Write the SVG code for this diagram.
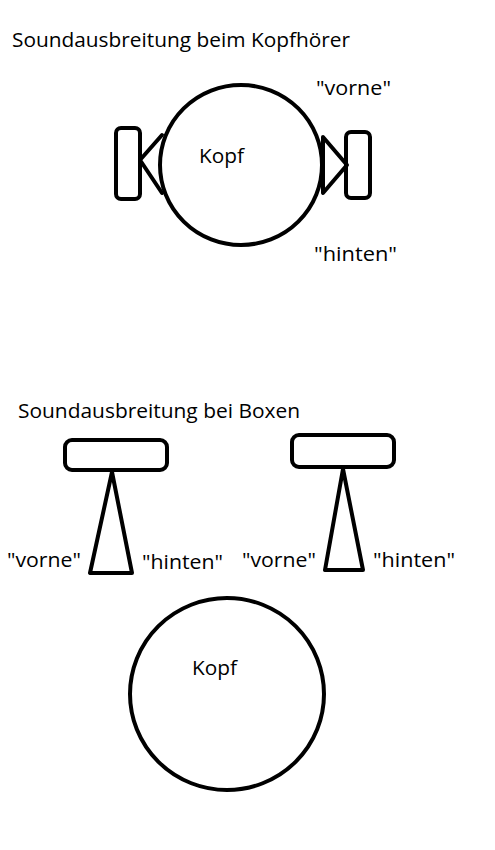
<svg xmlns="http://www.w3.org/2000/svg" width="495" height="850" viewBox="0 0 495 850">
<style>
.s{fill:none;stroke:#000;stroke-width:4;stroke-linejoin:round;stroke-linecap:round}
text{font-family:"Open Sans","Noto Sans","Liberation Sans",sans-serif;font-size:20px;fill:#000}
</style>
<rect width="495" height="850" fill="#fff"/>
<g id="title1"><text x="12" y="47" textLength="338" lengthAdjust="spacingAndGlyphs">Soundausbreitung beim Kopfhörer</text></g>
<g id="head1">
<ellipse class="s" cx="241" cy="165" rx="81" ry="80"/>
<text x="199" y="163" textLength="45" lengthAdjust="spacingAndGlyphs">Kopf</text>
</g>
<g id="earLeft">
<rect class="s" x="116" y="128" width="24" height="71" rx="5"/>
<polyline class="s" points="162,135 140,160 162,193"/>
</g>
<g id="earRight">
<rect class="s" x="346" y="132" width="24" height="66" rx="5"/>
<polygon class="s" points="323,137 347,165 323,193"/>
</g>
<g id="labelsTop">
<text x="316" y="95" textLength="75" lengthAdjust="spacingAndGlyphs">"vorne"</text>
<text x="314" y="261" textLength="83" lengthAdjust="spacingAndGlyphs">"hinten"</text>
</g>
<g id="title2"><text x="18" y="418" textLength="282" lengthAdjust="spacingAndGlyphs">Soundausbreitung bei Boxen</text></g>
<g id="boxLeft">
<rect class="s" x="65" y="440" width="102" height="30" rx="7"/>
<polygon class="s" points="112,472 90,573 132,573"/>
</g>
<g id="boxRight">
<rect class="s" x="292" y="435" width="102" height="32" rx="7"/>
<polygon class="s" points="343,469 325,570 363,570"/>
</g>
<g id="labelsBottom">
<text x="7" y="567" textLength="74" lengthAdjust="spacingAndGlyphs">"vorne"</text>
<text x="142" y="569" textLength="81" lengthAdjust="spacingAndGlyphs">"hinten"</text>
<text x="242" y="567" textLength="74" lengthAdjust="spacingAndGlyphs">"vorne"</text>
<text x="373" y="567" textLength="82" lengthAdjust="spacingAndGlyphs">"hinten"</text>
</g>
<g id="head2">
<ellipse class="s" cx="227" cy="694" rx="97" ry="96"/>
<text x="192" y="675" textLength="45" lengthAdjust="spacingAndGlyphs">Kopf</text>
</g>
</svg>
